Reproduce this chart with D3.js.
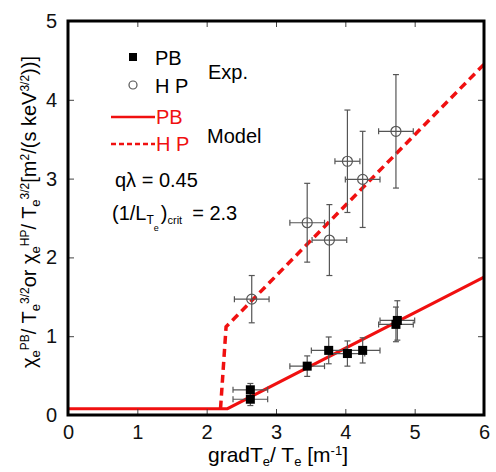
<!DOCTYPE html>
<html>
<head>
<meta charset="utf-8">
<script src="https://cdn.jsdelivr.net/npm/d3@7"></script>
<style>
  body { margin: 0; background: #fff; }
  text { font-family: "Liberation Sans", Arial, sans-serif; }
</style>
</head>
<body>
<div id="chart"></div>
<script>
var width = 496,
    height = 472;

var margin = {top: 21, right: 12, bottom: 57, left: 68};

// experimental points: x, y, x error, y error
var pbX    = [2.63, 2.63, 3.45, 3.76, 4.03, 4.25, 4.73, 4.75];
var pbY    = [0.20, 0.32, 0.62, 0.82, 0.78, 0.82, 1.15, 1.20];
var pbXErr = [0.25, 0.25, 0.25, 0.25, 0.25, 0.25, 0.25, 0.25];
var pbYErr = [0.08, 0.08, 0.13, 0.17, 0.16, 0.16, 0.22, 0.25];

var hpX    = [2.65, 3.45, 3.77, 4.03, 4.25, 4.73];
var hpY    = [1.47, 2.44, 2.22, 3.22, 2.99, 3.60];
var hpXErr = [0.25, 0.25, 0.25, 0.18, 0.25, 0.25];
var hpYErr = [0.30, 0.50, 0.45, 0.65, 0.61, 0.72];

// model curves
var modelPbX = [0, 2.3, 6];
var modelPbY = [0.08, 0.08, 1.75];
var modelHpX = [2.2, 2.28, 6];
var modelHpY = [0.08, 1.12, 4.45];

var xTicks = [0, 1, 2, 3, 4, 5, 6];
var yTicks = [0, 1, 2, 3, 4, 5];

var svg = d3.select("#chart").append("svg")
    .attr("width", width)
    .attr("height", height);

var x = d3.scaleLinear().domain([0, 6]).range([margin.left, width - margin.right]);
var y = d3.scaleLinear().domain([0, 5]).range([height - margin.bottom, margin.top]);

var plot = svg.append("g");

// inward ticks on all four sides
var tickLen = 6;
function axisStyle(g) {
  g.select(".domain").remove();
  g.selectAll(".tick line").attr("stroke", "#444").attr("stroke-width", 1);
  g.selectAll(".tick text").attr("font-size", 20).attr("fill", "#111");
}

svg.append("g")
    .attr("transform", "translate(0," + y(0) + ")")
    .call(d3.axisBottom(x).tickValues(xTicks).tickSize(-tickLen).tickPadding(10).tickFormat(d3.format("d")))
    .call(axisStyle);
svg.append("g")
    .attr("transform", "translate(0," + y(5) + ")")
    .call(d3.axisTop(x).tickValues(xTicks).tickSize(-tickLen).tickFormat(""))
    .call(axisStyle);
svg.append("g")
    .attr("transform", "translate(" + x(0) + ",0)")
    .call(d3.axisLeft(y).tickValues(yTicks).tickSize(-tickLen).tickPadding(11).tickFormat(d3.format("d")))
    .call(axisStyle);
svg.append("g")
    .attr("transform", "translate(" + x(6) + ",0)")
    .call(d3.axisRight(y).tickValues(yTicks).tickSize(-tickLen).tickFormat(""))
    .call(axisStyle);

// model lines
var line = d3.line().x(function(d) { return x(d[0]); }).y(function(d) { return y(d[1]); });

plot.append("path")
    .datum(d3.zip(modelPbX, modelPbY))
    .attr("d", line)
    .attr("fill", "none")
    .attr("stroke", "#f01010")
    .attr("stroke-width", 3);

plot.append("path")
    .datum(d3.zip(modelHpX, modelHpY))
    .attr("d", line)
    .attr("fill", "none")
    .attr("stroke", "#f01010")
    .attr("stroke-width", 3.5)
    .attr("stroke-dasharray", "8,5");

// error bars
function errorBars(xs, ys, xe, ye) {
  var cap = 3;
  var g = plot.append("g").attr("stroke", "#555").attr("stroke-width", 1.2);
  xs.forEach(function(xv, k) {
    var cx = x(xv), cy = y(ys[k]);
    var x0 = x(xv - xe[k]), x1 = x(xv + xe[k]);
    var y0 = y(ys[k] - ye[k]), y1 = y(ys[k] + ye[k]);
    g.append("line").attr("x1", x0).attr("x2", x1).attr("y1", cy).attr("y2", cy);
    g.append("line").attr("x1", x0).attr("x2", x0).attr("y1", cy - cap).attr("y2", cy + cap);
    g.append("line").attr("x1", x1).attr("x2", x1).attr("y1", cy - cap).attr("y2", cy + cap);
    g.append("line").attr("x1", cx).attr("x2", cx).attr("y1", y0).attr("y2", y1);
    g.append("line").attr("x1", cx - cap).attr("x2", cx + cap).attr("y1", y0).attr("y2", y0);
    g.append("line").attr("x1", cx - cap).attr("x2", cx + cap).attr("y1", y1).attr("y2", y1);
  });
}
errorBars(hpX, hpY, hpXErr, hpYErr);
errorBars(pbX, pbY, pbXErr, pbYErr);

// HP open circles
plot.selectAll("circle.hp")
    .data(d3.range(hpX.length))
    .enter().append("circle")
    .attr("class", "hp")
    .attr("cx", function(k) { return x(hpX[k]); })
    .attr("cy", function(k) { return y(hpY[k]); })
    .attr("r", 5)
    .attr("fill", "none")
    .attr("stroke", "#555")
    .attr("stroke-width", 1.2);

// PB filled squares
var sq = 9;
plot.selectAll("rect.pb")
    .data(d3.range(pbX.length))
    .enter().append("rect")
    .attr("class", "pb")
    .attr("x", function(k) { return x(pbX[k]) - sq / 2; })
    .attr("y", function(k) { return y(pbY[k]) - sq / 2; })
    .attr("width", sq)
    .attr("height", sq)
    .attr("fill", "#000");

// frame
svg.append("rect")
    .attr("x", x(0))
    .attr("y", y(5))
    .attr("width", x(6) - x(0))
    .attr("height", y(0) - y(5))
    .attr("fill", "none")
    .attr("stroke", "#000")
    .attr("stroke-width", 3);

// legend
var leg = svg.append("g").attr("font-size", 20);
leg.append("rect").attr("x", 129).attr("y", 53).attr("width", 8).attr("height", 8).attr("fill", "#000");
leg.append("text").attr("x", 155).attr("y", 65).text("PB");
leg.append("circle").attr("cx", 133).attr("cy", 85).attr("r", 4).attr("fill", "none").attr("stroke", "#555").attr("stroke-width", 1.2);
leg.append("text").attr("x", 155).attr("y", 93).text("H P");
leg.append("text").attr("x", 208).attr("y", 79).text("Exp.");

leg.append("line").attr("x1", 111).attr("x2", 155).attr("y1", 117).attr("y2", 117)
    .attr("stroke", "#f01010").attr("stroke-width", 2.5);
leg.append("text").attr("x", 156).attr("y", 124).attr("fill", "#f01010").text("PB");
leg.append("line").attr("x1", 111).attr("x2", 155).attr("y1", 144).attr("y2", 144)
    .attr("stroke", "#f01010").attr("stroke-width", 2.5).attr("stroke-dasharray", "5,3");
leg.append("text").attr("x", 156).attr("y", 151).attr("fill", "#f01010").text("H P");
leg.append("text").attr("x", 207).attr("y", 143).text("Model");

leg.append("text").attr("x", 115).attr("y", 187).text("qλ = 0.45");
var crit = leg.append("text").attr("x", 112).attr("y", 220);
crit.append("tspan").text("(1/L");
crit.append("tspan").attr("font-size", 12).attr("baseline-shift", "-35%").text("T");
crit.append("tspan").attr("font-size", 9).attr("baseline-shift", "-120%").text("e");
crit.append("tspan").attr("dx", 2).text(")");
crit.append("tspan").attr("font-size", 11).attr("baseline-shift", "-40%").text("crit");
crit.append("tspan").attr("dx", 10).text("= 2.3");

// axis labels
var xl = svg.append("text")
    .attr("x", 278)
    .attr("y", 462)
    .attr("text-anchor", "middle")
    .attr("font-size", 21);
xl.append("tspan").text("gradT");
xl.append("tspan").attr("font-size", 13).attr("baseline-shift", "-30%").text("e");
xl.append("tspan").text("/ T");
xl.append("tspan").attr("font-size", 13).attr("baseline-shift", "-30%").text("e");
xl.append("tspan").text(" [m");
xl.append("tspan").attr("font-size", 13).attr("baseline-shift", "55%").text("-1");
xl.append("tspan").text("]");

var yl = svg.append("text")
    .attr("transform", "translate(36," + 212 + ") rotate(-90)")
    .attr("text-anchor", "middle")
    .attr("font-size", 20);
function sub(t) { yl.append("tspan").attr("font-size", 13).attr("baseline-shift", "-30%").text(t); }
function sup(t) { yl.append("tspan").attr("font-size", 12).attr("baseline-shift", "60%").text(t); }
yl.append("tspan").text("χ"); sub("e"); sup("PB");
yl.append("tspan").text("/ T"); sub("e"); sup("3/2");
yl.append("tspan").text("or χ"); sub("e"); sup("HP");
yl.append("tspan").text("/ T"); sub("e"); sup("3/2");
yl.append("tspan").text("[m"); sup("2");
yl.append("tspan").text("/(s keV"); sup("3/2");
yl.append("tspan").text("))]");
</script>
</body>
</html>
